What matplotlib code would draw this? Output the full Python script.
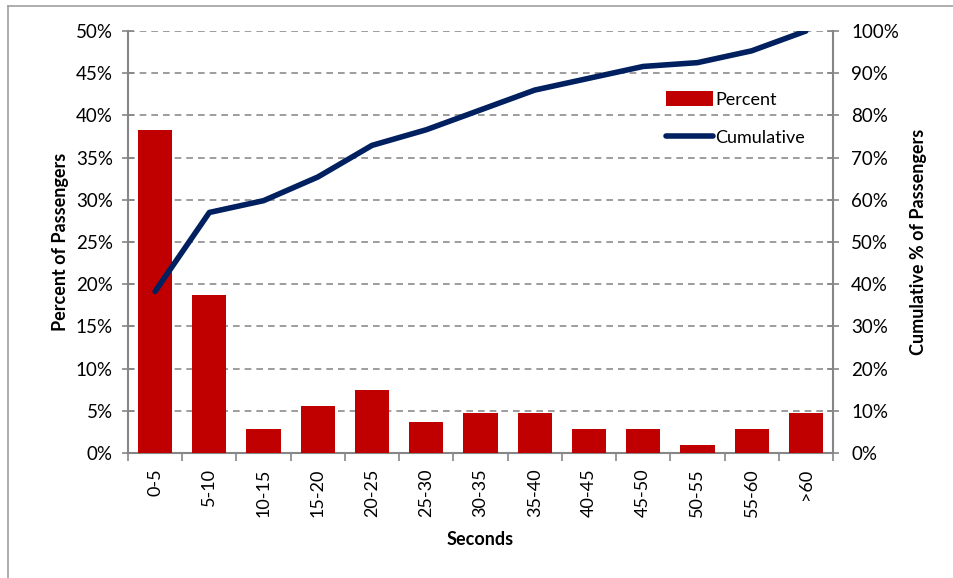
import numpy as np
import matplotlib.pyplot as plt
from matplotlib.ticker import FuncFormatter, MultipleLocator
from matplotlib.lines import Line2D
from matplotlib.patches import Patch

categories = ["0-5", "5-10", "10-15", "15-20", "20-25", "25-30", "30-35",
              "35-40", "40-45", "45-50", "50-55", "55-60", ">60"]
percent = [38.3, 18.7, 2.8, 5.6, 7.5, 3.7, 4.7, 4.7, 2.8, 2.8, 0.9, 2.8, 4.7]
cumulative = [38.3, 57.0, 59.8, 65.4, 72.9, 76.6, 81.3, 86.0, 88.8, 91.6, 92.5, 95.3, 100.0]

BAR_COLOR = "#C00000"
LINE_COLOR = "#002060"
AXIS_GRAY = "#868686"

plt.rcParams["font.family"] = ["Lato", "DejaVu Sans"]
plt.rcParams["font.size"] = 13

fig = plt.figure(figsize=(9.54, 5.78), dpi=100)
ax = fig.add_axes([128 / 954, 1 - 453 / 578, 705 / 954, 422 / 578])
ax2 = ax.twinx()

x = np.arange(len(categories))
ax.bar(x, percent, width=0.63, color=BAR_COLOR, zorder=3, label="Percent")
ax2.plot(x, cumulative, color=LINE_COLOR, linewidth=4, solid_capstyle="round",
         zorder=4, label="Cumulative")

ax.set_xlim(-0.5, len(categories) - 0.5)
ax.set_ylim(0, 50)
ax2.set_ylim(0, 100)

pct = FuncFormatter(lambda v, _: f"{v:.0f}%")
ax.yaxis.set_major_locator(MultipleLocator(5))
ax.yaxis.set_major_formatter(pct)
ax2.yaxis.set_major_locator(MultipleLocator(10))
ax2.yaxis.set_major_formatter(pct)

# category labels at centres, tick marks at boundaries
ax.set_xticks(x)
ax.set_xticklabels(categories, rotation=90)
ax.set_xticks(np.arange(len(categories) + 1) - 0.5, minor=True)
ax.tick_params(axis="x", which="major", length=0, pad=11, labelsize=13)
ax.tick_params(axis="x", which="minor", length=6, width=1.2, color=AXIS_GRAY, direction="out")
ax.tick_params(axis="y", length=8, width=1.2, color=AXIS_GRAY, direction="inout", pad=7, labelsize=13.5)
ax2.tick_params(axis="y", length=8, width=1.2, color=AXIS_GRAY, direction="inout", pad=9, labelsize=13.5)

ax.yaxis.grid(True, linestyle=(0, (4, 3)), color="#8c8c8c", linewidth=1.2, zorder=0)
ax.set_axisbelow(True)

for a in (ax, ax2):
    a.spines["top"].set_visible(False)
    for side in ("left", "right", "bottom"):
        a.spines[side].set_color(AXIS_GRAY)
        a.spines[side].set_linewidth(1.5)
ax.spines["right"].set_visible(False)
ax2.spines["left"].set_visible(False)
ax2.spines["bottom"].set_visible(False)

ax.set_xlabel("Seconds", fontweight="bold", fontsize=13, labelpad=10)
ax.set_ylabel("Percent of Passengers", fontweight="bold", fontsize=13, labelpad=5)
ax2.set_ylabel("Cumulative % of Passengers", fontweight="bold", fontsize=13, labelpad=8)

handles = [Patch(facecolor=BAR_COLOR, edgecolor="none"),
           Line2D([0], [0], color=LINE_COLOR, linewidth=4, solid_capstyle="round")]
fig.legend(handles, ["Percent", "Cumulative"], loc="upper left",
           bbox_to_anchor=(650 / 954, 1 - 75 / 578), frameon=False,
           fontsize=13, handlelength=2.6, handleheight=0.9, handletextpad=0.1,
           labelspacing=1.2)

# outer chart frame (cut off at the right and bottom)
fig.add_artist(Line2D([8 / 954, 8 / 954], [0, 1 - 6 / 578], color="#a0a0a0", linewidth=1.2))
fig.add_artist(Line2D([8 / 954, 1], [1 - 6 / 578, 1 - 6 / 578], color="#a0a0a0", linewidth=1.2))

fig.savefig("out.png", dpi=100)
